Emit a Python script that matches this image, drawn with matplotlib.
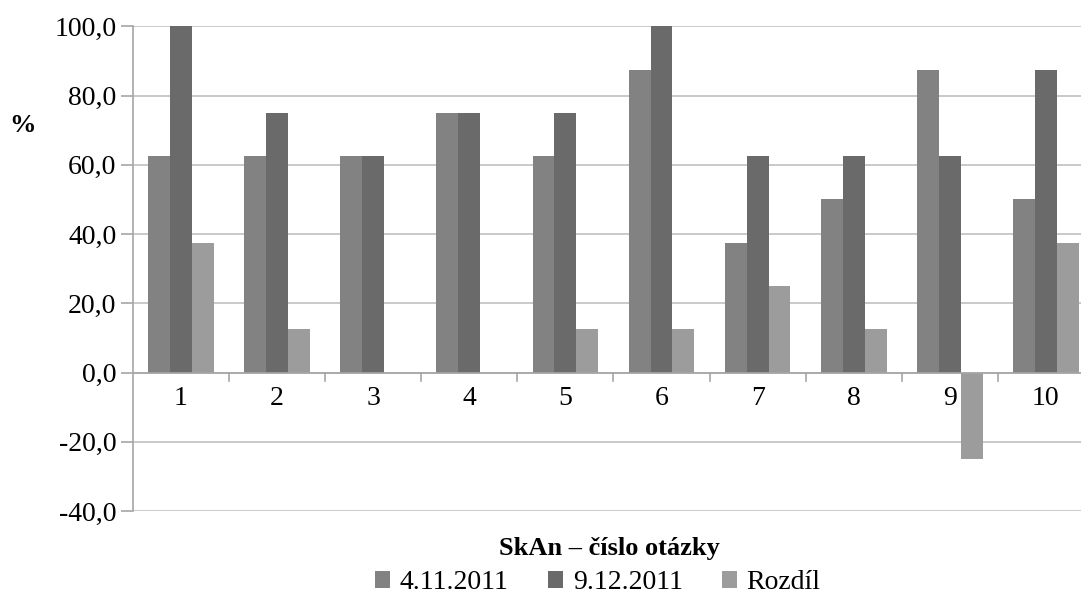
import numpy as np
import matplotlib.pyplot as plt
from matplotlib.ticker import FuncFormatter

plt.rcParams['font.family'] = ['Liberation Serif', 'DejaVu Serif']

questions = ["1", "2", "3", "4", "5", "6", "7", "8", "9", "10"]
series_names = ["4.11.2011", "9.12.2011", "Rozdíl"]
first = [62.5, 62.5, 62.5, 75.0, 62.5, 87.5, 37.5, 50.0, 87.5, 50.0]
second = [100.0, 75.0, 62.5, 75.0, 75.0, 100.0, 62.5, 62.5, 62.5, 87.5]
diff = [37.5, 12.5, 0.0, 0.0, 12.5, 12.5, 25.0, 12.5, -25.0, 37.5]
colors = ["#828282", "#6a6a6a", "#9c9c9c"]

fig = plt.figure(figsize=(10.81, 5.96), dpi=100)
# right edge runs a little past the figure, as in the exported chart
ax = fig.add_axes([0.123, 0.1426, 0.889, 0.8133])

x = np.arange(len(questions))
w = 0.228
for k, (vals, name) in enumerate(zip([first, second, diff], series_names)):
    ax.bar(x + (k - 1) * w, vals, width=w, color=colors[k], label=name, zorder=3)

ax.set_xlim(-0.5, len(questions) - 0.5)
ax.set_ylim(-40, 100)
ax.set_yticks(np.arange(-40, 101, 20))
ax.yaxis.set_major_formatter(FuncFormatter(lambda v, p: f"{v:.1f}".replace(".", ",")))
ax.grid(axis="y", color="#c0c0c0", linewidth=1.2, zorder=0)
ax.set_xticks([])

for s in ["top", "right", "bottom"]:
    ax.spines[s].set_visible(False)
ax.spines["left"].set_color("#a6a6a6")
ax.spines["left"].set_linewidth(1.2)
ax.tick_params(axis="y", length=9, width=1.2, color="#a6a6a6", labelsize=20, pad=3)

# category axis drawn along zero
ax.axhline(0, color="#a6a6a6", linewidth=1.2, zorder=4)
for b in np.arange(0.5, len(questions) - 0.5, 1):
    ax.plot([b, b], [0, -2.4], color="#a6a6a6", linewidth=1.2, zorder=4, clip_on=False)
for i, q in enumerate(questions):
    ax.text(i, -4.0, q, ha="center", va="top", fontsize=20)

fig.text(0.021, 0.79, "%", ha="center", va="center", fontsize=19, fontweight="bold")
fig.text(0.564, 0.08, "SkAn – číslo otázky", ha="center", va="center",
         fontsize=19, fontweight="bold")

fig.legend(loc="center", bbox_to_anchor=(0.553, 0.022), ncol=3, frameon=False,
           fontsize=20, handlelength=0.55, handleheight=0.55, handletextpad=0.35,
           columnspacing=1.4, borderpad=0)

fig.savefig("out.png", dpi=100)
